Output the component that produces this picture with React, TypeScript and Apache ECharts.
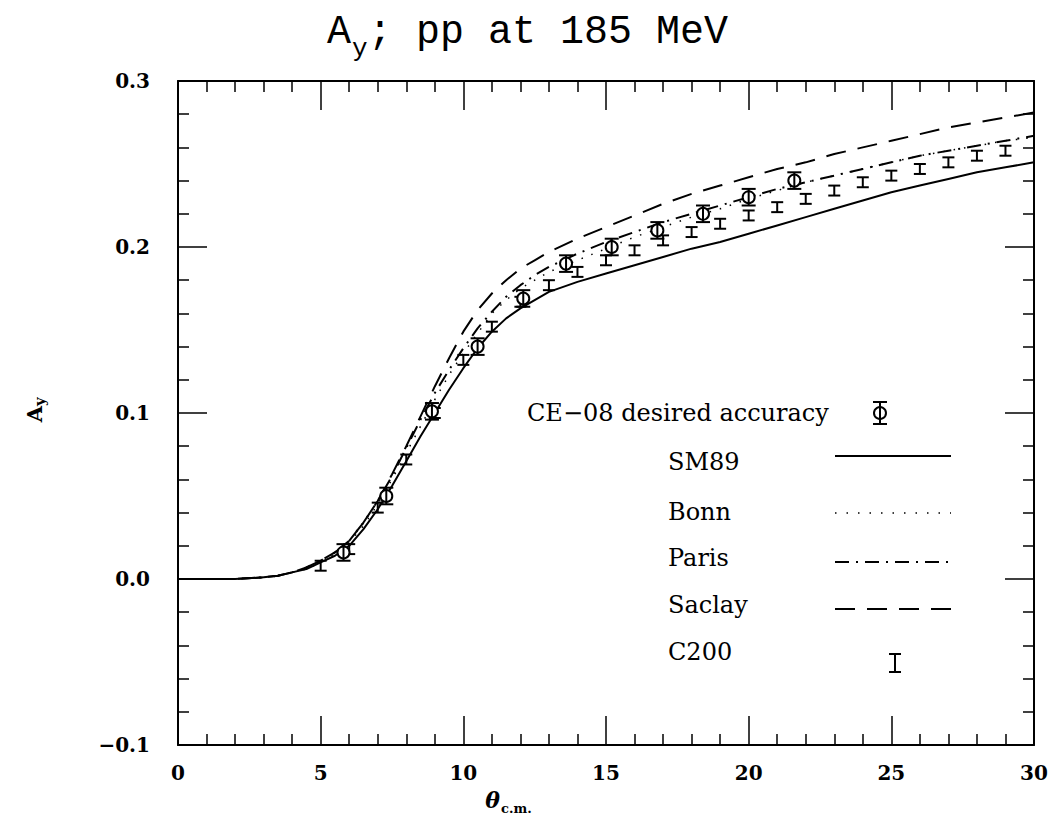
import React, { useEffect, useRef } from "react";
import * as echarts from "echarts";

const angles = [0, 1, 2, 3, 3.5, 4, 4.5, 5, 5.5, 6, 6.5, 7, 7.5, 8, 8.5, 9, 9.5, 10, 10.5, 11, 11.5, 12, 12.5, 13, 14, 15, 16, 17, 18, 19, 20, 21, 22, 23, 24, 25, 26, 27, 28, 29, 30];
const sm89 = [0, 0, 0, 0.001, 0.002, 0.004, 0.006, 0.010, 0.014, 0.020, 0.030, 0.042, 0.056, 0.071, 0.086, 0.100, 0.114, 0.127, 0.139, 0.149, 0.157, 0.163, 0.168, 0.173, 0.179, 0.184, 0.189, 0.194, 0.199, 0.203, 0.208, 0.213, 0.218, 0.223, 0.228, 0.233, 0.237, 0.241, 0.245, 0.248, 0.251];
const bonn = [0, 0, 0, 0.001, 0.002, 0.004, 0.006, 0.010, 0.015, 0.022, 0.032, 0.045, 0.060, 0.076, 0.092, 0.108, 0.123, 0.136, 0.148, 0.160, 0.168, 0.175, 0.180, 0.185, 0.192, 0.199, 0.206, 0.212, 0.218, 0.223, 0.229, 0.234, 0.239, 0.243, 0.247, 0.251, 0.255, 0.258, 0.261, 0.264, 0.266];
const paris = [0, 0, 0, 0.001, 0.002, 0.004, 0.007, 0.011, 0.016, 0.023, 0.034, 0.047, 0.062, 0.079, 0.096, 0.112, 0.126, 0.139, 0.151, 0.161, 0.170, 0.177, 0.183, 0.188, 0.196, 0.203, 0.209, 0.215, 0.220, 0.225, 0.230, 0.235, 0.239, 0.243, 0.247, 0.251, 0.255, 0.258, 0.261, 0.264, 0.267];
const saclay = [0, 0, 0, 0.001, 0.002, 0.004, 0.007, 0.011, 0.016, 0.023, 0.034, 0.047, 0.063, 0.080, 0.098, 0.116, 0.133, 0.149, 0.162, 0.172, 0.180, 0.187, 0.192, 0.197, 0.205, 0.212, 0.219, 0.226, 0.232, 0.237, 0.242, 0.247, 0.251, 0.256, 0.260, 0.264, 0.268, 0.272, 0.275, 0.278, 0.281];

const ce08X = [5.8, 7.3, 8.9, 10.5, 12.1, 13.6, 15.2, 16.8, 18.4, 20.0, 21.6];
const ce08Y = [0.016, 0.050, 0.101, 0.140, 0.169, 0.190, 0.200, 0.210, 0.220, 0.230, 0.240];
const ce08Err = [0.005, 0.005, 0.005, 0.005, 0.005, 0.005, 0.005, 0.005, 0.005, 0.005, 0.005];

const c200X = [5, 6, 7, 8, 9, 10, 11, 12, 13, 14, 15, 16, 17, 18, 19, 20, 21, 22, 23, 24, 25, 26, 27, 28, 29];
const c200Y = [0.008, 0.018, 0.043, 0.072, 0.100, 0.132, 0.152, 0.167, 0.177, 0.185, 0.192, 0.198, 0.204, 0.209, 0.214, 0.219, 0.224, 0.229, 0.234, 0.239, 0.243, 0.247, 0.251, 0.255, 0.258];
const c200Err = [0.003, 0.003, 0.003, 0.003, 0.003, 0.003, 0.003, 0.003, 0.003, 0.003, 0.003, 0.003, 0.003, 0.003, 0.003, 0.003, 0.003, 0.003, 0.003, 0.003, 0.003, 0.003, 0.003, 0.003, 0.003];

const xTicks = { min: 0, max: 30, interval: 5 };
const yTicks = { min: -0.1, max: 0.3, interval: 0.1 };

const legendNames = ["SM89", "Bonn", "Paris", "Saclay", "C200"];

const SERIF = "DejaVu Serif";

function zip(xs: number[], ys: number[]) {
  return xs.map((x, i) => [x, ys[i]]);
}

export default function App() {
  const ref = useRef<HTMLDivElement>(null);
  useEffect(() => {
    if (!ref.current) return;
    const chart = echarts.init(ref.current, undefined, { renderer: "svg" });

    const ce08Data = ce08X.map((x, i) => [x, ce08Y[i], ce08Err[i]]);
    const c200Data = c200X.map((x, i) => [x, c200Y[i], c200Err[i]]);

    const axisCommon = {
      axisLine: { show: true, onZero: false, lineStyle: { color: "#000", width: 2 } },
      axisTick: { show: true, inside: true, length: 29, lineStyle: { color: "#000", width: 1.5 } },
      minorTick: { show: true, splitNumber: 5, length: 11, lineStyle: { color: "#000", width: 1.5 } },
      splitLine: { show: false },
    };

    const lineSeries = (name: string, ys: number[], type: any, width = 2) => ({
      name,
      type: "line",
      data: zip(angles, ys),
      showSymbol: false,
      smooth: false,
      lineStyle: { color: "#000", width, type, join: "round" },
      z: 2,
    });

    const legendLineY = [456, 513, 562, 609];
    const legendDash: any[] = [null, [1.5, 10], [14, 7, 2, 7], [20, 12]];
    const legendTextY = [462, 512, 558, 605, 652];

    const graphic: any[] = [
      // title
      { type: "text", left: 327, top: 12, style: { text: "A", font: "40px 'Liberation Mono'", fill: "#000" } },
      { type: "text", left: 352, top: 36, style: { text: "y", font: "26px 'Liberation Mono'", fill: "#000" } },
      { type: "text", left: 368, top: 12, style: { text: "; pp at 185 MeV", font: "40px 'Liberation Mono'", fill: "#000" } },
      // y axis name
      {
        type: "group",
        x: 34,
        y: 411,
        rotation: Math.PI / 2,
        children: [
          { type: "text", x: 5, y: 0, style: { text: "A", font: `bold 21px '${SERIF}'`, fill: "#000", align: "right", verticalAlign: "middle" } },
          { type: "text", x: 5, y: 6, style: { text: "y", font: `bold 15px '${SERIF}'`, fill: "#000", align: "left", verticalAlign: "middle" } },
        ],
      },
      // x axis name
      { type: "text", x: 500, y: 800, style: { text: "θ", font: `italic bold 22px '${SERIF}'`, fill: "#000", align: "right", verticalAlign: "middle" } },
      { type: "text", x: 501, y: 808, style: { text: "c.m.", font: `bold 13px '${SERIF}'`, fill: "#000", align: "left", verticalAlign: "middle" } },
      // legend header
      { type: "text", x: 527, y: 413, style: { text: "CE\u221208 desired accuracy", font: `24px '${SERIF}'`, fill: "#000", align: "left", verticalAlign: "middle" } },
      { type: "line", shape: { x1: 880, y1: 402, x2: 880, y2: 424 }, style: { stroke: "#000", lineWidth: 2 } },
      { type: "line", shape: { x1: 873, y1: 402, x2: 887, y2: 402 }, style: { stroke: "#000", lineWidth: 2 } },
      { type: "line", shape: { x1: 873, y1: 424, x2: 887, y2: 424 }, style: { stroke: "#000", lineWidth: 2 } },
      { type: "circle", shape: { cx: 880, cy: 413, r: 6 }, style: { fill: "#fff", stroke: "#000", lineWidth: 2 } },
      { type: "line", shape: { x1: 880, y1: 407, x2: 880, y2: 419 }, style: { stroke: "#000", lineWidth: 2 } },
      // C200 legend bar
      { type: "line", shape: { x1: 895, y1: 654, x2: 895, y2: 672 }, style: { stroke: "#000", lineWidth: 2 } },
      { type: "line", shape: { x1: 889, y1: 654, x2: 901, y2: 654 }, style: { stroke: "#000", lineWidth: 2 } },
      { type: "line", shape: { x1: 889, y1: 672, x2: 901, y2: 672 }, style: { stroke: "#000", lineWidth: 2 } },
    ];
    legendNames.forEach((n, i) => {
      graphic.push({ type: "text", x: 668, y: legendTextY[i], style: { text: n, font: `24px '${SERIF}'`, fill: "#000", align: "left", verticalAlign: "middle" } });
    });
    legendLineY.forEach((y, i) => {
      graphic.push({
        type: "line",
        shape: { x1: 835, y1: y, x2: 951, y2: y },
        style: { stroke: "#000", lineWidth: i === 1 ? 1.5 : 2, lineDash: legendDash[i] || undefined },
      });
    });

    const option: any = {
      animation: false,
      backgroundColor: "#fff",
      grid: { left: 178, right: 18, top: 81, bottom: 78, containLabel: false },
      xAxis: [
        {
          type: "value",
          ...xTicks,
          position: "bottom",
          ...axisCommon,
          axisLabel: { show: true, margin: 18, fontFamily: SERIF, fontWeight: "bold", fontSize: 20, color: "#000" },
        },
        {
          type: "value",
          ...xTicks,
          position: "top",
          ...axisCommon,
          axisLabel: { show: false },
        },
      ],
      yAxis: [
        {
          type: "value",
          ...yTicks,
          position: "left",
          ...axisCommon,
          axisLabel: {
            show: true,
            margin: 28,
            fontFamily: SERIF,
            fontWeight: "bold",
            fontSize: 20,
            color: "#000",
            formatter: (v: number) => v.toFixed(1).replace("-", "\u2212"),
          },
        },
        {
          type: "value",
          ...yTicks,
          position: "right",
          ...axisCommon,
          axisLabel: { show: false },
        },
      ],
      series: [
        lineSeries("SM89", sm89, "solid", 2),
        lineSeries("Bonn", bonn, [1.5, 9], 1.5),
        lineSeries("Paris", paris, [14, 7, 2, 7], 2),
        lineSeries("Saclay", saclay, [20, 12], 2),
        {
          name: "C200",
          type: "custom",
          data: c200Data,
          z: 5,
          renderItem: (params: any, api: any) => {
            const x = api.value(0), y = api.value(1), e = api.value(2);
            const top = api.coord([x, y + e]);
            const bot = api.coord([x, y - e]);
            const hw = 6;
            const st = { stroke: "#000", lineWidth: 2 };
            return {
              type: "group",
              children: [
                { type: "line", shape: { x1: top[0], y1: top[1], x2: bot[0], y2: bot[1] }, style: st },
                { type: "line", shape: { x1: top[0] - hw, y1: top[1], x2: top[0] + hw, y2: top[1] }, style: st },
                { type: "line", shape: { x1: bot[0] - hw, y1: bot[1], x2: bot[0] + hw, y2: bot[1] }, style: st },
              ],
            };
          },
        },
        {
          name: "CE-08",
          type: "custom",
          data: ce08Data,
          z: 6,
          renderItem: (params: any, api: any) => {
            const x = api.value(0), y = api.value(1), e = api.value(2);
            const c = api.coord([x, y]);
            const top = api.coord([x, y + e]);
            const bot = api.coord([x, y - e]);
            const hw = 7;
            const st = { stroke: "#000", lineWidth: 2 };
            return {
              type: "group",
              children: [
                { type: "line", shape: { x1: top[0], y1: top[1], x2: bot[0], y2: bot[1] }, style: st },
                { type: "line", shape: { x1: top[0] - hw, y1: top[1], x2: top[0] + hw, y2: top[1] }, style: st },
                { type: "line", shape: { x1: bot[0] - hw, y1: bot[1], x2: bot[0] + hw, y2: bot[1] }, style: st },
                { type: "circle", shape: { cx: c[0], cy: c[1], r: 6 }, style: { fill: "#fff", stroke: "#000", lineWidth: 2 } },
                { type: "line", shape: { x1: c[0], y1: c[1] - 6, x2: c[0], y2: c[1] + 6 }, style: st },
              ],
            };
          },
        },
      ],
      graphic,
    };
    chart.setOption(option);
    return () => chart.dispose();
  }, []);
  return <div ref={ref} style={{ position: "fixed", left: 0, top: 0, width: 1052, height: 823 }} />;
}
